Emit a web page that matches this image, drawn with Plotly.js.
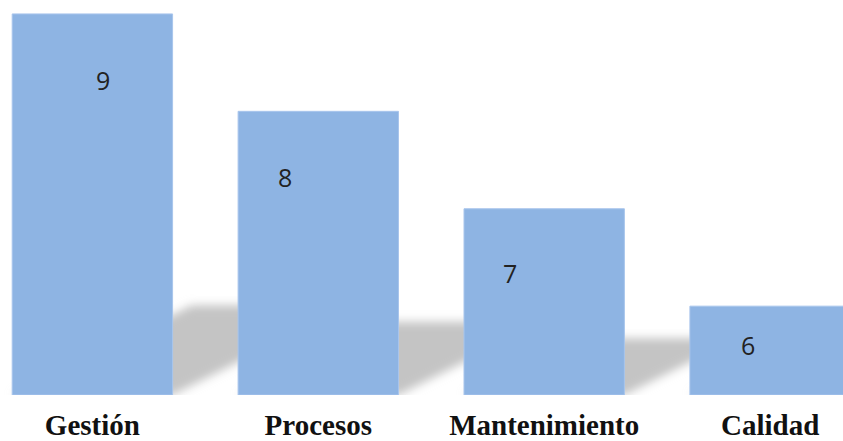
<!DOCTYPE html>
<html>
<head>
<meta charset="utf-8">
<script src="https://cdn.plot.ly/plotly-3.0.1.min.js"></script>
<style>
  html, body { margin: 0; padding: 0; background: #ffffff; }
  #chart { width: 843px; height: 441px; }
</style>
</head>
<body>
<div id="chart"></div>
<script>
// Categories and their counts
const categories = ['Gestión', 'Procesos', 'Mantenimiento', 'Calidad'];
const values = [9, 8, 7, 6];
const valueLabels = values.map(String);

// Value label nudges in pixels (x, and y measured from the bar top)
const labelDx = [11, -33, -34, -22];
const labelDy = [-66, -66, -64, -39];

// Axis window and geometry
const yBase = 5.088;
const yTop = 9.143;
const xRange = [-0.409, 3.3227];
const barWidth = 0.71;
const plotW = 843;
const plotH = 395;
const pxPerX = plotW / (xRange[1] - xRange[0]);
const pxPerY = plotH / (yTop - yBase);

const xs = categories.map((_, i) => i);

// Perspective shadows cast up and to the right behind each bar
const shadowShapes = values.map((v, i) => {
  const hPx = (v - yBase) * pxPerY;
  const shH = 25 + 0.17 * hPx;
  const shift = 2 * shH / pxPerX;
  const ys = yBase + shH / pxPerY;
  const x0 = i - barWidth / 2, x1 = i + barWidth / 2;
  return {
    type: 'path',
    xref: 'x',
    yref: 'y',
    layer: 'below',
    path: `M ${x0},${yBase} L ${x1},${yBase} L ${x1 + shift},${ys} L ${x0 + shift},${ys} Z`,
    fillcolor: 'rgb(196,196,196)',
    line: { width: 0 }
  };
});

const bars = {
  type: 'bar',
  x: xs,
  // bars are drawn up from yBase, so each length is value - yBase
  y: values.map(v => v - yBase),
  base: yBase,
  width: barWidth,
  marker: { color: '#8EB4E3', line: { color: '#A8C5EC', width: 1 } },
  hoverinfo: 'skip',
  showlegend: false
};

const annotations = values.map((v, i) => ({
  x: xs[i],
  y: v,
  xref: 'x',
  yref: 'y',
  text: valueLabels[i],
  showarrow: false,
  xanchor: 'center',
  yanchor: 'middle',
  xshift: labelDx[i],
  yshift: labelDy[i],
  font: { family: 'Open Sans, sans-serif', size: 25, color: '#222222' }
}));

const layout = {
  width: 843,
  height: 441,
  margin: { l: 0, r: 0, t: 0, b: 46, pad: 0 },
  paper_bgcolor: '#ffffff',
  plot_bgcolor: 'rgba(0,0,0,0)',
  showlegend: false,
  xaxis: {
    type: 'linear',
    range: xRange,
    tickmode: 'array',
    tickvals: xs,
    ticktext: categories,
    ticks: '',
    ticklabelstandoff: 10,
    showgrid: false,
    zeroline: false,
    showline: false,
    tickfont: { family: 'Liberation Serif, Times New Roman, serif', size: 29, color: '#111111', weight: 'bold' }
  },
  yaxis: {
    range: [yBase, yTop],
    visible: false,
    showgrid: false,
    zeroline: false
  },
  shapes: shadowShapes,
  annotations: annotations
};

function softenShadows(gd) {
  const ns = 'http://www.w3.org/2000/svg';
  const svg = gd.querySelector('.main-svg');
  if (!svg.querySelector('#shadowBlur')) {
    let defs = svg.querySelector('defs');
    if (!defs) { defs = document.createElementNS(ns, 'defs'); svg.insertBefore(defs, svg.firstChild); }
    const filter = document.createElementNS(ns, 'filter');
    filter.setAttribute('id', 'shadowBlur');
    filter.setAttribute('x', '-50%');
    filter.setAttribute('y', '-50%');
    filter.setAttribute('width', '200%');
    filter.setAttribute('height', '200%');
    const blur = document.createElementNS(ns, 'feGaussianBlur');
    blur.setAttribute('stdDeviation', '5');
    filter.appendChild(blur);
    defs.appendChild(filter);
  }
  gd.querySelectorAll('.shapelayer path').forEach(p => {
    p.setAttribute('filter', 'url(#shadowBlur)');
    p.style.filter = 'url(#shadowBlur)';
  });
}

Plotly.newPlot('chart', [bars], layout, { staticPlot: true, displayModeBar: false })
  .then(gd => {
    softenShadows(gd);
    gd.on('plotly_afterplot', () => softenShadows(gd));
  });
</script>
</body>
</html>
